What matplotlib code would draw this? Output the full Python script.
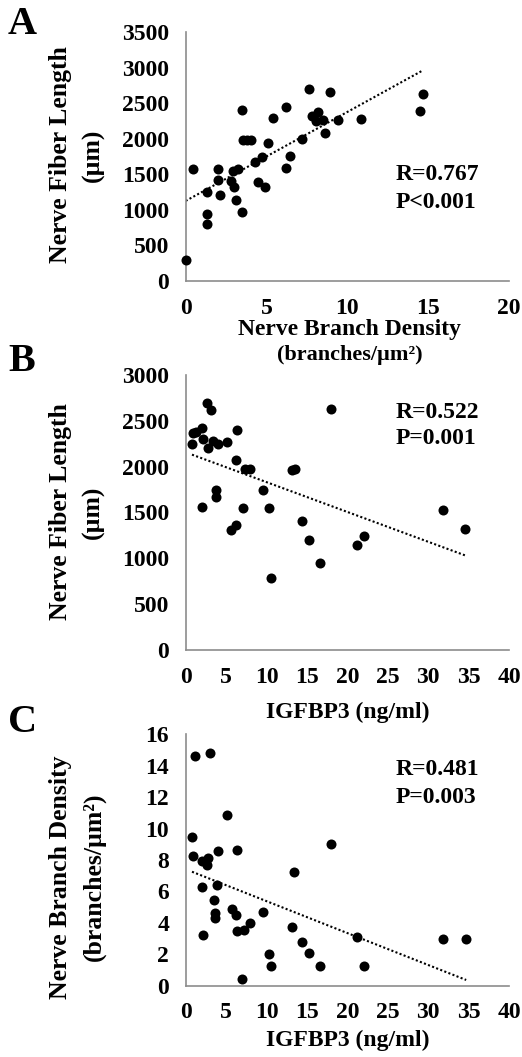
import numpy as np
import matplotlib
matplotlib.use("Agg")
import matplotlib.pyplot as plt

# ---------------- data ----------------
# Panel A: Nerve Branch Density vs Nerve Fiber Length
a_density = [0.00, 0.43, 1.30, 1.34, 1.30, 1.97, 1.99, 2.14, 2.78, 3.00, 2.94, 3.25,
             3.12, 3.48, 3.48, 3.55, 3.78, 4.03, 4.28, 4.69, 4.48, 4.90, 5.12, 5.41,
             6.21, 6.21, 6.44, 7.20, 7.61, 7.80, 8.19, 8.05, 8.50, 8.60, 8.95, 9.40,
             10.82, 14.48, 14.67]
a_length = [295, 1569, 1245, 946, 796, 1569, 1414, 1203, 1409, 1325, 1549, 1577,
            1142, 965, 2402, 1980, 1980, 1980, 1676, 1746, 1386, 1316, 1938, 2289,
            2439, 1587, 1756, 1999, 2697, 2315, 2370, 2250, 2261, 2074, 2650, 2261,
            2275, 2392, 2631]

# Panel B: IGFBP3 vs Nerve Fiber Length
b_igfbp3 = [2.68, 3.09, 0.78, 0.86, 1.24, 1.98, 2.18, 2.80, 3.42, 4.00, 5.07, 6.39,
            6.27, 7.34, 8.00, 3.75, 3.71, 2.06, 7.09, 5.61, 6.27, 9.61, 10.27, 10.60,
            13.20, 13.50, 14.43, 15.26, 16.62, 17.94, 21.20, 22.10, 31.80, 34.57]
b_length = [2690, 2617, 2243, 2363, 2381, 2425, 2301, 2206, 2283, 2243, 2265, 2399,
            2068, 1974, 1974, 1745, 1665, 1559, 1552, 1306, 1364, 1741, 1552, 785,
            1960, 1977, 1403, 1199, 948, 2628, 1142, 1246, 1527, 1323]

# Panel C: IGFBP3 vs Nerve Branch Density
c_igfbp3 = [0.78, 0.86, 1.98, 2.60, 2.80, 3.96, 6.31, 5.07, 1.98, 3.83, 3.46, 3.66,
            3.66, 2.10, 5.69, 6.22, 6.39, 7.26, 7.96, 6.97, 9.61, 10.27, 10.60, 13.16,
            13.45, 14.43, 15.26, 16.62, 17.94, 21.20, 22.10, 1.15, 3.00, 31.80, 34.70]
c_density = [9.45, 8.26, 7.96, 7.66, 8.11, 8.60, 8.64, 10.89, 6.28, 6.43, 5.46, 4.65,
             4.29, 3.25, 4.88, 4.48, 3.50, 3.55, 4.01, 0.43, 4.69, 2.00, 1.25, 3.76,
             7.24, 2.78, 2.10, 1.27, 9.04, 3.10, 1.25, 14.62, 14.79, 2.99, 2.99]

a_xticks = [0, 5, 10, 15, 20]
a_yticks = [0, 500, 1000, 1500, 2000, 2500, 3000, 3500]
b_xticks = [0, 5, 10, 15, 20, 25, 30, 35, 40]
b_yticks = [0, 500, 1000, 1500, 2000, 2500, 3000]
c_xticks = [0, 5, 10, 15, 20, 25, 30, 35, 40]
c_yticks = [0, 2, 4, 6, 8, 10, 12, 14, 16]

a_stats = ["R=0.767", "P<0.001"]
b_stats = ["R=0.522", "P=0.001"]
c_stats = ["R=0.481", "P=0.003"]

# ---------------- style ----------------
plt.rcParams['font.family'] = ['Liberation Serif', 'DejaVu Serif']
plt.rcParams['font.weight'] = 'bold'
TICK_FS = 17
STAT_FS = 17
XLAB_FS = 17
YLAB_FS = 18.5
LET_FS = 29
SPINE = '#8c8c8c'

W, H = 522, 1057
fig = plt.figure(figsize=(W / 100, H / 100), dpi=100)


def fx(px):
    return px / W


def fy(py):
    return 1 - py / H


def panel(rect_px, x, y, xticks, yticks, stats, stat_xy):
    left, top, right, bottom = rect_px
    ax = fig.add_axes([fx(left), fy(bottom), fx(right - left), (bottom - top) / H])
    ax.scatter(x, y, s=52, color='black', zorder=3, linewidths=0, clip_on=False)
    xa = np.asarray(x, float)
    ya = np.asarray(y, float)
    k, b = np.polyfit(xa, ya, 1)
    xs = np.array([xa.min(), xa.max()])
    ax.plot(xs, k * xs + b, linestyle=(0, (1, 1.1)), color='black', lw=1.5, zorder=2)
    ax.set_xlim(xticks[0], xticks[-1])
    ax.set_ylim(yticks[0], yticks[-1])
    ax.set_xticks(xticks)
    ax.set_yticks(yticks)
    ax.tick_params(length=0, labelsize=TICK_FS, pad=12)
    for lab in ax.get_xticklabels() + ax.get_yticklabels():
        lab.set_fontweight('bold')
    for s in ['top', 'right']:
        ax.spines[s].set_visible(False)
    for s in ['left', 'bottom']:
        ax.spines[s].set_color(SPINE)
        ax.spines[s].set_linewidth(1.2)
    ax.text(stat_xy[0], stat_xy[1][0], stats[0], fontsize=STAT_FS, fontweight='bold',
            ha='left', va='center')
    ax.text(stat_xy[0], stat_xy[1][1], stats[1], fontsize=STAT_FS, fontweight='bold',
            ha='left', va='center')
    return ax


axA = panel((185.7, 32, 509, 281), a_density, a_length, a_xticks, a_yticks,
            a_stats, (13.0, (1503, 1110)))
axB = panel((185.7, 375, 509, 650), b_igfbp3, b_length, b_xticks, b_yticks,
            b_stats, (26.0, (2592, 2308)))
axC = panel((185.7, 734.3, 509, 985.7), c_igfbp3, c_density, c_xticks, c_yticks,
            c_stats, (26.0, (13.73, 12.0)))

# panel letters
for letter, (px, py) in zip("ABC", [(8, 24), (8, 361), (8, 722)]):
    fig.text(fx(px), fy(py), letter, fontsize=LET_FS, fontweight='bold',
             ha='left', va='center')

# y labels
fig.text(fx(60), fy(155), "Nerve Fiber Length", rotation=90, fontsize=YLAB_FS,
         fontweight='bold', ha='center', va='center')
fig.text(fx(93), fy(155), "(µm)", rotation=90, fontsize=YLAB_FS,
         fontweight='bold', ha='center', va='center')
fig.text(fx(60), fy(512), "Nerve Fiber Length", rotation=90, fontsize=YLAB_FS,
         fontweight='bold', ha='center', va='center')
fig.text(fx(93), fy(512), "(µm)", rotation=90, fontsize=YLAB_FS,
         fontweight='bold', ha='center', va='center')
fig.text(fx(60), fy(877), "Nerve Branch Density", rotation=90, fontsize=YLAB_FS,
         fontweight='bold', ha='center', va='center')
fig.text(fx(94), fy(877), "(branches/µm²)", rotation=90, fontsize=YLAB_FS,
         fontweight='bold', ha='center', va='center')

# x labels
fig.text(fx(350), fy(330), "Nerve Branch Density", fontsize=XLAB_FS,
         fontweight='bold', ha='center', va='center')
fig.text(fx(350), fy(355), "(branches/µm²)", fontsize=XLAB_FS - 1,
         fontweight='bold', ha='center', va='center')
fig.text(fx(348), fy(712), "IGFBP3 (ng/ml)", fontsize=XLAB_FS,
         fontweight='bold', ha='center', va='center')
fig.text(fx(348), fy(1040), "IGFBP3 (ng/ml)", fontsize=XLAB_FS,
         fontweight='bold', ha='center', va='center')

fig.savefig("out.png", dpi=100, facecolor='white')
